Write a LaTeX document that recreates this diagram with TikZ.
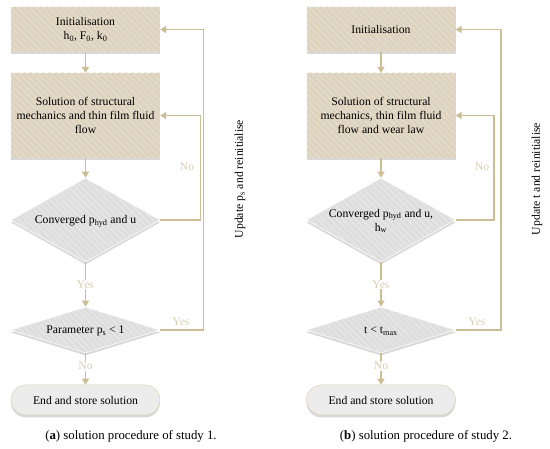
\documentclass[tikz,border=0pt]{standalone}
\usepackage{fontspec}
\setmainfont{Liberation Serif}
\usetikzlibrary{arrows.meta,shapes.geometric,shadows,patterns.meta}
\definecolor{boxfill}{RGB}{221,211,191}
\definecolor{boxstripe}{RGB}{230,222,207}
\definecolor{diafill}{RGB}{222,222,222}
\definecolor{diastripe}{RGB}{233,233,233}
\definecolor{endfill}{RGB}{236,236,236}
\definecolor{linecol}{RGB}{204,189,148}
\definecolor{labcol}{RGB}{216,206,180}
\newcommand{\mfont}{\fontsize{11.7}{14}\selectfont}
\tikzset{
  shd/.style={drop shadow={shadow xshift=0pt,shadow yshift=-2.5pt,opacity=0.3}},
  procbox/.style={rectangle, minimum width=149pt, inner sep=0pt, align=center,
    font=\mfont, fill=boxfill, shd,
    postaction={pattern={Lines[angle=-45,distance=4.5pt,line width=1pt]}, pattern color=boxstripe}},
  decbox/.style={diamond, minimum width=149pt, inner sep=0pt, fill=diafill, shd,
    draw=white, line width=0.6pt,
    postaction={pattern={Lines[angle=-45,distance=4.5pt,line width=1pt]}, pattern color=diastripe}},
  dectext/.style={align=center, font=\mfont},
  endbox/.style={rectangle, rounded corners=15pt, minimum width=149pt, minimum height=30pt,
    inner sep=0pt, fill=endfill, draw=linecol!70, line width=0.5pt, shd, font=\mfont},
  flow/.style={draw=linecol, line width=1.4pt, -{Triangle[width=7pt,length=6pt]}},
  lab/.style={text=labcol, font=\mfont, inner sep=1pt},
  side/.style={rotate=90, font=\mfont},
  capt/.style={font=\fontsize{12.8}{14}\selectfont},
}
\begin{document}
\begin{tikzpicture}[x=1pt,y=-1pt]
\useasboundingbox (0,0) rectangle (550,449);
% ---------- panel (a)
\node[procbox, minimum height=45pt] (ia) at (85.5,29.5) {Initialisation\\h\textsubscript{0}, F\textsubscript{0}, k\textsubscript{0}};
\node[procbox, minimum height=85pt] (sa) at (85.5,115.5) {Solution of structural\\mechanics and thin film fluid\\flow};
\node[decbox, minimum height=84pt] (da) at (85.5,220) {};
\node[dectext] (dta) at (85.5,221) {Converged p\textsubscript{hyd} and u};
\node[decbox, minimum height=46pt] (pa) at (85.5,330) {};
\node[dectext] (pta) at (85.5,331) {Parameter p\textsubscript{s} < 1};
\node[endbox] (ea) at (85.5,400) {End and store solution};
\draw[flow] (ia) -- (sa);
\draw[flow] (sa) -- (da);
\draw[flow] (da) -- node[lab, fill=white] (ya) {Yes} (pa);
\draw[flow] (pa) -- node[lab, fill=white, pos=0.4] (na) {No} (ea);
\draw[flow] (da.east) -- ++(40,0) |- (sa.east);
\draw[flow] (pa.east) -- ++(43,0) |- (ia.east);
\node[lab] (nla) at (187,167) {No};
\node[lab] (yla) at (181,322) {Yes};
\node[side] (ua) at (240,179) {Update p\textsubscript{s} and reinitialise};
\node[capt] (ca) at (131,436) {(\textbf{a}) solution procedure of study 1.};
% ---------- panel (b)
\node[procbox, minimum height=45pt] (ib) at (381,29.5) {Initialisation};
\node[procbox, minimum height=85pt] (sb) at (381,115.5) {Solution of structural\\mechanics, thin film fluid\\flow and wear law};
\node[decbox, minimum height=84pt] (db) at (381,220) {};
\node[dectext] (dtb) at (381,221) {Converged p\textsubscript{hyd} and u,\\h\textsubscript{w}};
\node[decbox, minimum height=46pt] (pb) at (381,330) {};
\node[dectext] (ptb) at (381,331) {t < t\textsubscript{max}};
\node[endbox] (eb) at (381,400) {End and store solution};
\draw[flow] (ib) -- (sb);
\draw[flow] (sb) -- (db);
\draw[flow] (db) -- node[lab, fill=white] (yb) {Yes} (pb);
\draw[flow] (pb) -- node[lab, fill=white, pos=0.4] (nb) {No} (eb);
\draw[flow] (db.east) -- ++(38,0) |- (sb.east);
\draw[flow] (pb.east) -- ++(45,0) |- (ib.east);
\node[lab] (nlb) at (482,167) {No};
\node[lab] (ylb) at (477,322) {Yes};
\node[side] (ub) at (537,179) {Update t and reinitialise};
\node[capt] (cb) at (426,436) {(\textbf{b}) solution procedure of study 2.};
\end{tikzpicture}
\end{document}
